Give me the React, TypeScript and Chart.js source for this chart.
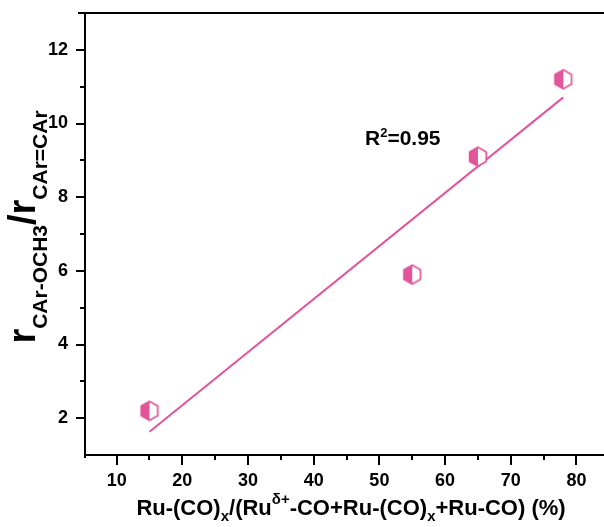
import React, { useEffect, useRef } from 'react';
import { Chart, registerables } from 'chart.js';

Chart.register(...registerables);

// ---- data ----
const ratioX = [15, 55, 65, 78];
const ratioY = [2.2, 5.9, 9.1, 11.2];
const fitX = [15, 78];
const fitY = [1.63, 10.71];
const xTicks = [10, 20, 30, 40, 50, 60, 70, 80];
const yTicks = [2, 4, 6, 8, 10, 12];
const xMinor = [15, 25, 35, 45, 55, 65, 75];
const yMinor = [3, 5, 7, 9, 11];
const r2Label = { main: 'R', sup: '2', rest: '=0.95' };

const PINK = '#e2559a';
const FONT = '"Liberation Sans", Arial, Helvetica, sans-serif';

type Seg = { t: string; s: number; dy: number };

const xTitle: Seg[] = [
  { t: 'Ru-(CO)', s: 22, dy: 0 },
  { t: 'x', s: 15, dy: 6 },
  { t: '/(Ru', s: 22, dy: 0 },
  { t: 'δ+', s: 15, dy: -11 },
  { t: '-CO+Ru-(CO)', s: 22, dy: 0 },
  { t: 'x', s: 15, dy: 6 },
  { t: '+Ru-CO) (%)', s: 22, dy: 0 },
];

const yTitle: Seg[] = [
  { t: 'r', s: 38, dy: 0 },
  { t: 'CAr-OCH3', s: 21, dy: 12 },
  { t: '/', s: 38, dy: 0 },
  { t: 'r', s: 38, dy: 0 },
  { t: 'CAr=CAr', s: 21, dy: 12 },
];

function makeHex(): HTMLCanvasElement {
  const c = document.createElement('canvas');
  c.width = 22;
  c.height = 24;
  const g = c.getContext('2d')!;
  const cx = 11, cy = 12, r = 9.6;
  const pts: number[][] = [];
  for (let i = 0; i < 6; i++) {
    const a = -Math.PI / 2 + (i * Math.PI) / 3;
    pts.push([cx + r * Math.cos(a), cy + r * Math.sin(a)]);
  }
  g.beginPath();
  pts.forEach((p, i) => (i ? g.lineTo(p[0], p[1]) : g.moveTo(p[0], p[1])));
  g.closePath();
  g.fillStyle = '#ffffff';
  g.fill();
  g.beginPath();
  g.moveTo(pts[0][0], pts[0][1]);
  g.lineTo(pts[5][0], pts[5][1]);
  g.lineTo(pts[4][0], pts[4][1]);
  g.lineTo(pts[3][0], pts[3][1]);
  g.closePath();
  g.fillStyle = PINK;
  g.fill();
  g.beginPath();
  pts.forEach((p, i) => (i ? g.lineTo(p[0], p[1]) : g.moveTo(p[0], p[1])));
  g.closePath();
  g.strokeStyle = PINK;
  g.lineWidth = 1.7;
  g.lineJoin = 'miter';
  g.stroke();
  return c;
}

function drawSegs(ctx: CanvasRenderingContext2D, segs: Seg[], x0: number, y0: number) {
  let x = x0;
  for (const sg of segs) {
    ctx.font = `bold ${sg.s}px ${FONT}`;
    ctx.fillText(sg.t, x, y0 + sg.dy);
    x += ctx.measureText(sg.t).width;
  }
}

function segsWidth(ctx: CanvasRenderingContext2D, segs: Seg[]) {
  let w = 0;
  for (const sg of segs) {
    ctx.font = `bold ${sg.s}px ${FONT}`;
    w += ctx.measureText(sg.t).width;
  }
  return w;
}

const decorPlugin = {
  id: 'decor',
  afterDraw(chart: any) {
    const ctx: CanvasRenderingContext2D = chart.ctx;
    const { left, right, top, bottom } = chart.chartArea;
    const xs = chart.scales.x;
    const ys = chart.scales.y;
    ctx.save();
    ctx.strokeStyle = '#000';
    ctx.lineWidth = 2;
    ctx.lineCap = 'butt';
    ctx.beginPath();
    // frame
    ctx.moveTo(left - 7, top);
    ctx.lineTo(right, top);
    ctx.moveTo(left, top - 1);
    ctx.lineTo(left, bottom + 3);
    ctx.moveTo(left - 1, bottom);
    ctx.lineTo(right, bottom);
    // x ticks
    for (const v of xTicks) {
      const p = Math.round(xs.getPixelForValue(v));
      ctx.moveTo(p, bottom);
      ctx.lineTo(p, bottom + 10);
    }
    for (const v of xMinor) {
      const p = Math.round(xs.getPixelForValue(v));
      ctx.moveTo(p, bottom);
      ctx.lineTo(p, bottom + 5);
    }
    for (const v of yTicks) {
      const p = Math.round(ys.getPixelForValue(v));
      ctx.moveTo(left, p);
      ctx.lineTo(left - 9, p);
    }
    for (const v of yMinor) {
      const p = Math.round(ys.getPixelForValue(v));
      ctx.moveTo(left, p);
      ctx.lineTo(left - 5, p);
    }
    ctx.stroke();

    ctx.fillStyle = '#000';
    ctx.textBaseline = 'alphabetic';
    ctx.textAlign = 'left';
    // x title
    const wx = segsWidth(ctx, xTitle);
    drawSegs(ctx, xTitle, 351 - wx / 2, 515);
    // y title
    ctx.save();
    ctx.translate(35, 227);
    ctx.rotate(-Math.PI / 2);
    const wy = segsWidth(ctx, yTitle);
    drawSegs(ctx, yTitle, -wy / 2, 0);
    ctx.restore();
    // R^2 label
    drawSegs(
      ctx,
      [
        { t: r2Label.main, s: 21, dy: 0 },
        { t: r2Label.sup, s: 13, dy: -8 },
        { t: r2Label.rest, s: 21, dy: 0 },
      ],
      365,
      145
    );
    ctx.restore();
  },
};

export default function App() {
  const ref = useRef<HTMLCanvasElement>(null);
  useEffect(() => {
    if (!ref.current) return;
    const hex = makeHex();
    const tickFont = { family: FONT, size: 18, weight: 'bold' as const };
    const chart = new Chart(ref.current, {
      type: 'scatter',
      data: {
        datasets: [
          {
            type: 'line',
            data: fitX.map((x, i) => ({ x, y: fitY[i] })),
            borderColor: PINK,
            borderWidth: 2,
            pointRadius: 0,
            fill: false,
            order: 2,
          } as any,
          {
            data: ratioX.map((x, i) => ({ x, y: ratioY[i] })),
            pointStyle: hex as any,
            pointRadius: 10,
            backgroundColor: PINK,
            borderColor: PINK,
            order: 1,
          },
        ],
      },
      options: {
        responsive: false,
        animation: false,
        devicePixelRatio: 1,
        layout: { autoPadding: false, padding: { top: 13, left: 0, right: 0, bottom: 0 } },
        plugins: { legend: { display: false }, tooltip: { enabled: false } },
        scales: {
          x: {
            type: 'linear',
            min: 5.18,
            max: 84.2,
            afterBuildTicks: (s: any) => {
              s.ticks = xTicks.map((v) => ({ value: v }));
            },
            afterFit: (s: any) => {
              s.height = 72;
              s.paddingLeft = 0;
              s.paddingRight = 0;
              s.paddingTop = 0;
              s.paddingBottom = 0;
            },
            grid: { display: false, drawTicks: false, tickLength: 0 },
            border: { display: false },
            ticks: {
              font: tickFont,
              color: '#000',
              padding: 15,
              maxRotation: 0,
              autoSkip: false,
            },
          },
          y: {
            type: 'linear',
            min: 1,
            max: 13,
            afterBuildTicks: (s: any) => {
              s.ticks = yTicks.map((v) => ({ value: v }));
            },
            afterFit: (s: any) => {
              s.width = 85;
              s.paddingLeft = 0;
              s.paddingRight = 0;
              s.paddingTop = 0;
              s.paddingBottom = 0;
            },
            grid: { display: false, drawTicks: false, tickLength: 0 },
            border: { display: false },
            ticks: {
              font: tickFont,
              color: '#000',
              padding: 17,
              autoSkip: false,
            },
          },
        },
      },
      plugins: [decorPlugin],
    });
    return () => chart.destroy();
  }, []);
  return (
    <div style={{ position: 'fixed', left: 0, top: 0, width: 604, height: 527, background: '#fff' }}>
      <canvas ref={ref} width={604} height={527} style={{ display: 'block' }} />
    </div>
  );
}
